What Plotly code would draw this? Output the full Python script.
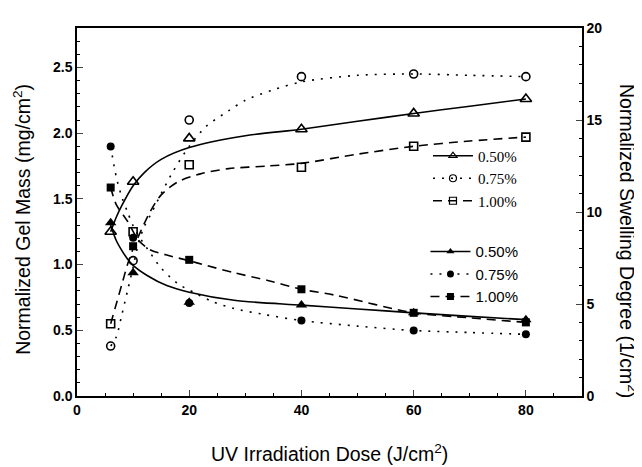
import plotly.graph_objects as go

# ---- measured data points ----
dose = [6, 10, 20, 40, 60, 80]
gel_050 = [1.25, 1.63, 1.96, 2.03, 2.15, 2.26]
gel_075 = [0.38, 1.03, 2.10, 2.43, 2.45, 2.43]
gel_100 = [0.55, 1.25, 1.76, 1.74, 1.90, 1.97]
swell_050 = [9.41, 6.70, 5.10, 4.94, 4.52, 4.15]
swell_075 = [13.56, 8.60, 5.05, 4.10, 3.56, 3.35]
swell_100 = [11.33, 8.14, 7.40, 5.80, 4.52, 4.00]

# ---- fitted curves ----
fit_gel_050_x = [6, 7, 8, 10, 12, 15, 20, 30, 40, 50, 60, 70, 80]
fit_gel_050 = [1.25, 1.36, 1.45, 1.60, 1.70, 1.80, 1.89, 1.98, 2.03, 2.09, 2.15, 2.205, 2.26]
fit_gel_075_x = [6, 7, 8, 9, 10, 11, 12, 13, 15, 17, 20, 23, 27, 30, 35, 40, 50, 60, 70, 80]
fit_gel_075 = [0.38, 0.45, 0.62, 0.80, 0.98, 1.17, 1.29, 1.37, 1.54, 1.70, 1.90, 2.05, 2.17, 2.25,
               2.33, 2.39, 2.44, 2.45, 2.44, 2.43]
fit_gel_100_x = [6, 7, 8, 9, 10, 11, 13, 15, 18, 22, 27, 34, 40, 50, 60, 70, 80]
fit_gel_100 = [0.55, 0.70, 0.85, 1.00, 1.12, 1.22, 1.40, 1.53, 1.63, 1.69, 1.73, 1.75, 1.77,
               1.84, 1.90, 1.94, 1.97]
fit_swell_050_x = [6, 7, 8, 9, 10, 12.5, 16, 20, 28, 40, 50, 60, 70, 80]
fit_swell_050 = [9.3, 8.45, 7.9, 7.45, 7.1, 6.55, 6.0, 5.64, 5.2, 4.94, 4.73, 4.52, 4.33, 4.15]
fit_swell_075_x = [6, 7, 8, 9, 10, 11, 13, 15, 18, 21, 24, 28, 33, 40, 50, 60, 70, 80]
fit_swell_075 = [13.56, 11.9, 10.8, 10.0, 9.25, 8.7, 7.8, 6.95, 6.1, 5.6, 5.15, 4.75, 4.45, 4.1,
                 3.8, 3.56, 3.45, 3.35]
fit_swell_100_x = [6, 7, 9, 11, 13, 16, 20, 22.4, 28, 34, 40, 46, 60, 70, 80]
fit_swell_100 = [11.33, 10.4, 9.5, 8.45, 7.95, 7.66, 7.35, 7.15, 6.7, 6.28, 5.8, 5.48, 4.52,
                 4.25, 4.0]

labels = ["0.50%", "0.75%", "1.00%"]

DOT = "2px,7px"
DASH = "9px,6px"
dashes = ["solid", DOT, DASH]
open_syms = ["triangle-up-open", "circle-open", "square-open"]
fill_syms = ["triangle-up", "circle", "square"]
msizes = [10, 8, 8]

fig = go.Figure()

gel_fits = [(fit_gel_050_x, fit_gel_050), (fit_gel_075_x, fit_gel_075), (fit_gel_100_x, fit_gel_100)]
sw_fits = [(fit_swell_050_x, fit_swell_050), (fit_swell_075_x, fit_swell_075),
           (fit_swell_100_x, fit_swell_100)]
gels = [gel_050, gel_075, gel_100]
swells = [swell_050, swell_075, swell_100]

for i in range(3):
    fx, fy = gel_fits[i]
    fig.add_trace(go.Scatter(x=fx, y=fy, mode="lines", line=dict(color="black", width=1.6,
                  dash=dashes[i], shape="spline", smoothing=0.8), showlegend=False, yaxis="y"))
    fig.add_trace(go.Scatter(x=dose, y=gels[i], mode="markers",
                  marker=dict(symbol=open_syms[i], size=msizes[i], color="black",
                              line=dict(width=1.6, color="black")),
                  showlegend=False, yaxis="y"))
    fx, fy = sw_fits[i]
    fig.add_trace(go.Scatter(x=fx, y=fy, mode="lines", line=dict(color="black", width=1.6,
                  dash=dashes[i], shape="spline", smoothing=0.8), showlegend=False, yaxis="y2"))
    fig.add_trace(go.Scatter(x=dose, y=swells[i], mode="markers",
                  marker=dict(symbol=fill_syms[i], size=msizes[i], color="black",
                              line=dict(width=0, color="black")),
                  showlegend=False, yaxis="y2"))

# legend entries
for i in range(3):
    fig.add_trace(go.Scatter(x=[None], y=[None], mode="lines+markers", name=labels[i],
                  line=dict(color="black", width=1.6, dash=dashes[i]),
                  marker=dict(symbol=open_syms[i], size=7, color="black",
                              line=dict(width=1.2, color="black")),
                  legend="legend"))
for i in range(3):
    fig.add_trace(go.Scatter(x=[None], y=[None], mode="lines+markers", name=labels[i],
                  line=dict(color="black", width=1.6, dash=dashes[i]),
                  marker=dict(symbol=fill_syms[i], size=7, color="black"),
                  legend="legend2", yaxis="y2"))

tickfont = dict(family="Liberation Sans, Arial", size=14, color="black", weight="bold")
titlefont = dict(family="Liberation Sans, Arial", size=19.5, color="black")

# page body has an 8px margin, so the figure is 8px smaller than the window
fig.update_layout(
    width=634, height=459,
    margin=dict(l=69, r=60, t=12, b=71),
    paper_bgcolor="white", plot_bgcolor="white",
    xaxis=dict(range=[0, 90], dtick=20, tick0=0, ticks="inside", ticklen=6, tickwidth=1.3,
               showline=True, linecolor="black", linewidth=1.5, mirror=True, showgrid=False,
               zeroline=False, tickfont=tickfont,
               minor=dict(dtick=5, ticks="inside", ticklen=3, tickwidth=1.2, tickcolor="black")),
    yaxis=dict(range=[0, 2.8], dtick=0.5, tick0=0, tickformat=".1f", ticks="inside", ticklen=6,
               tickwidth=1.3, showline=True, linecolor="black", linewidth=1.5, showgrid=False,
               zeroline=False, tickfont=tickfont,
               minor=dict(dtick=0.1, ticks="inside", ticklen=3, tickwidth=1.2, tickcolor="black")),
    yaxis2=dict(range=[0, 20], dtick=5, tick0=0, overlaying="y", side="right", ticks="inside",
                ticklen=6, tickwidth=1.3, showline=True, linecolor="black", linewidth=1.5,
                showgrid=False, zeroline=False, tickfont=tickfont,
                minor=dict(dtick=1, ticks="inside", ticklen=3, tickwidth=1.2, tickcolor="black")),
    legend=dict(x=0.695, y=0.697, xanchor="left", yanchor="top", bgcolor="rgba(0,0,0,0)",
                font=dict(family="Liberation Serif, Times New Roman", size=15, color="black"),
                itemwidth=40, tracegroupgap=0),
    legend2=dict(x=0.69, y=0.437, xanchor="left", yanchor="top", bgcolor="rgba(0,0,0,0)",
                 font=dict(family="Liberation Sans, Arial", size=15, color="black"),
                 itemwidth=40, tracegroupgap=0),
    annotations=[
        dict(text="UV Irradiation Dose (J/cm<sup>2</sup>)", xref="paper", yref="paper",
             x=0.5, y=-0.155, xanchor="center", yanchor="middle", showarrow=False,
             font=titlefont),
        dict(text="Normalized Gel Mass (mg/cm<sup>2</sup>)", xref="paper", yref="paper",
             x=-0.108, y=0.48, xanchor="center", yanchor="middle", showarrow=False,
             textangle=-90, font=titlefont),
        dict(text="Normalized Swelling Degree (1/cm<sup>2</sup>)", xref="paper", yref="paper",
             x=1.09, y=0.42, xanchor="center", yanchor="middle", showarrow=False,
             textangle=90, font=titlefont),
    ],
)

fig.write_html("out.html")
